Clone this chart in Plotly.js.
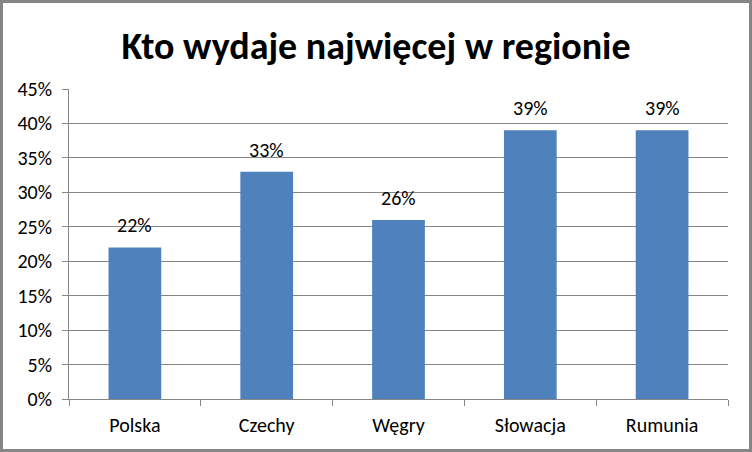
<!DOCTYPE html>
<html>
<head>
<meta charset="utf-8">
<script src="https://cdn.plot.ly/plotly-3.0.1.min.js"></script>
<style>
html,body{margin:0;padding:0;background:#fff;}
#chart{width:752px;height:452px;box-sizing:border-box;border:3px solid #868686;}
</style>
</head>
<body>
<div id="chart"></div>
<script>
const categories = ["Polska", "Czechy", "Węgry", "Słowacja", "Rumunia"];
const values = [0.22, 0.33, 0.26, 0.39, 0.39];
const labels = ["22%", "33%", "26%", "39%", "39%"];
const titleText = "Kto wydaje najwięcej w regionie";

const font = "Carlito, 'Open Sans', 'Noto Sans', sans-serif";
const trace = {
  type: "bar",
  x: categories,
  y: values,
  marker: {color: "#4F81BD"},
  hoverinfo: "none"
};
const annotations = categories.map((c, i) => ({
  x: c, y: values[i], xref: "x", yref: "y",
  text: labels[i], showarrow: false,
  yanchor: "bottom", yshift: 8,
  font: {family: font, size: 20, color: "#000"}
}));
const layout = {
  width: 746, height: 446,
  margin: {l: 66, r: 21, t: 86, b: 50},
  paper_bgcolor: "#fff", plot_bgcolor: "#fff",
  showlegend: false,
  bargap: 0.6,
  annotations: annotations,
  title: {text: "<b>" + titleText + "</b>", font: {family: font, size: 38, color: "#000"}, x: 0.5, xanchor: "center", y: 0.905, yanchor: "middle"},
  xaxis: {
    showline: true, linecolor: "#868686", linewidth: 1,
    ticks: "outside", tickson: "boundaries", ticklen: 6, tickcolor: "#868686",
    tickfont: {family: font, size: 20, color: "#000"},
    showgrid: false, ticklabelstandoff: 8
  },
  yaxis: {
    range: [0, 0.45], dtick: 0.05, tickformat: ".0%",
    showline: true, linecolor: "#868686", linewidth: 1,
    ticks: "outside", ticklen: 6, tickcolor: "#868686",
    tickfont: {family: font, size: 20, color: "#000"},
    showgrid: true, gridcolor: "#868686", gridwidth: 1,
    zeroline: false, ticklabelstandoff: 6
  }
};
Plotly.newPlot("chart", [trace], layout, {staticPlot: true});
</script>
</body>
</html>
